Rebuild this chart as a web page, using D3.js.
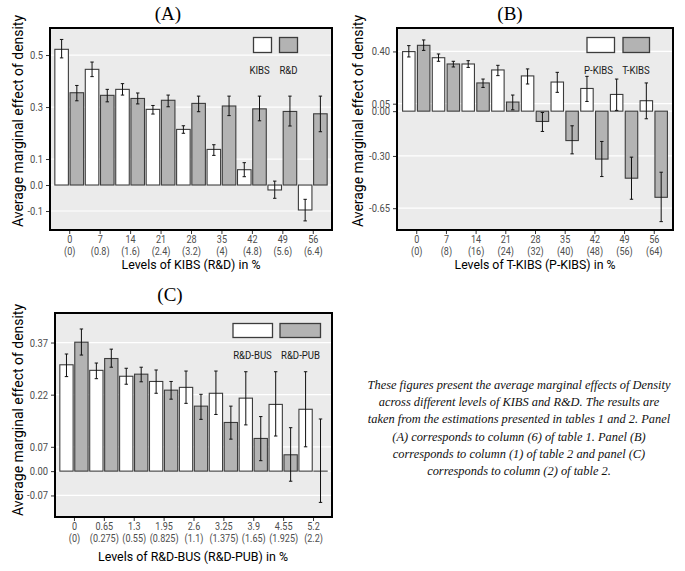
<!DOCTYPE html>
<html>
<head>
<meta charset="utf-8">
<script src="https://cdn.jsdelivr.net/npm/d3@7/dist/d3.min.js"></script>
<style>
  html, body { margin: 0; padding: 0; background: #fff; }
  svg { display: block; }
</style>
</head>
<body>
<svg id="chart" width="685" height="571"></svg>
<script>
// ---------- Panel A data ----------
const levelsA = ["0", "7", "14", "21", "28", "35", "42", "49", "56"];
const levelsA2 = ["(0)", "(0.8)", "(1.6)", "(2.4)", "(3.2)", "(4)", "(4.8)", "(5.6)", "(6.4)"];
const kibsA = [0.522, 0.445, 0.368, 0.291, 0.214, 0.137, 0.059, -0.019, -0.096];
const kibsLoA = [0.489, 0.417, 0.346, 0.273, 0.199, 0.114, 0.032, -0.051, -0.138];
const kibsHiA = [0.560, 0.473, 0.390, 0.306, 0.228, 0.155, 0.086, 0.015, -0.055];
const rdA = [0.355, 0.345, 0.333, 0.326, 0.314, 0.304, 0.293, 0.283, 0.274];
const rdLoA = [0.324, 0.320, 0.312, 0.301, 0.282, 0.267, 0.247, 0.227, 0.205];
const rdHiA = [0.383, 0.368, 0.354, 0.346, 0.342, 0.342, 0.342, 0.342, 0.342];
const ticksA = [0.5, 0.3, 0.1, 0.0, -0.1];
const seriesA = ["KIBS", "R&D"];

// ---------- Panel B data ----------
const levelsB = ["0", "7", "14", "21", "28", "35", "42", "49", "56"];
const levelsB2 = ["(0)", "(8)", "(16)", "(24)", "(32)", "(40)", "(48)", "(56)", "(64)"];
const pkibsB = [0.399, 0.358, 0.316, 0.276, 0.236, 0.195, 0.152, 0.112, 0.070];
const pkibsLoB = [0.363, 0.334, 0.293, 0.238, 0.182, 0.126, 0.065, 0.005, -0.051];
const pkibsHiB = [0.439, 0.383, 0.338, 0.307, 0.283, 0.260, 0.233, 0.215, 0.189];
const tkibsB = [0.441, 0.316, 0.189, 0.061, -0.069, -0.197, -0.321, -0.449, -0.577];
const tkibsLoB = [0.407, 0.296, 0.159, 0.009, -0.136, -0.286, -0.438, -0.590, -0.740];
const tkibsHiB = [0.477, 0.334, 0.215, 0.108, -0.009, -0.098, -0.203, -0.308, -0.409];
const ticksB = [0.40, 0.05, 0.00, -0.30, -0.65];
const seriesB = ["P-KIBS", "T-KIBS"];

// ---------- Panel C data ----------
const levelsC = ["0", "0.65", "1.3", "1.95", "2.6", "3.25", "3.9", "4.55", "5.2"];
const levelsC2 = ["(0)", "(0.275)", "(0.55)", "(0.825)", "(1.1)", "(1.375)", "(1.65)", "(1.925)", "(2.2)"];
const busC = [0.306, 0.290, 0.273, 0.258, 0.241, 0.224, 0.210, 0.192, 0.178];
const busLoC = [0.272, 0.266, 0.250, 0.224, 0.195, 0.163, 0.133, 0.101, 0.070];
const busHiC = [0.337, 0.311, 0.296, 0.291, 0.288, 0.288, 0.286, 0.286, 0.286];
const pubC = [0.371, 0.324, 0.279, 0.233, 0.187, 0.140, 0.094, 0.047, 0.000];
const pubLoC = [0.334, 0.299, 0.257, 0.207, 0.149, 0.092, 0.030, -0.029, -0.090];
const pubHiC = [0.409, 0.351, 0.299, 0.258, 0.221, 0.187, 0.157, 0.125, 0.150];
const ticksC = [0.37, 0.22, 0.07, 0.00, -0.07];
const seriesC = ["R&D-BUS", "R&D-PUB"];

const captionLines = [
  "These figures present the average marginal effects of Density",
  "across different levels of KIBS and R&D. The results are",
  "taken from the estimations presented in tables 1 and 2. Panel",
  "(A) corresponds to column (6) of table 1. Panel (B)",
  "corresponds to column (1) of table 2 and panel (C)",
  "corresponds to column (2) of table 2."
];

const svg = d3.select("#chart");
const SANS = "Roboto, 'Noto Sans', sans-serif";
const SERIF = "'Liberation Serif', 'Times New Roman', serif";
const FILLS = ["#ffffff", "#b3b3b3"];
const NARROW = "scale(0.87,1)";
const TICKFS = "10.4px";

function panel(cfg) {
  const g = svg.append("g");
  const {x0, x1, y0, y1} = cfg.rect;
  const y = d3.scaleLinear().domain(cfg.domain).range([y1, y0]);
  const xg = d3.scaleBand().domain(d3.range(cfg.levels.length))
    .range([x0 + cfg.pad, x1 - cfg.pad]).paddingInner(0).paddingOuter(0);
  const xs = d3.scaleBand().domain([0, 1]).range([0, xg.bandwidth()])
    .paddingInner(cfg.inner).paddingOuter(cfg.inner / 2);

  // background
  g.append("rect").attr("x", x0).attr("y", y0).attr("width", x1 - x0).attr("height", y1 - y0)
    .attr("fill", "#ebebeb");
  // gridlines
  g.selectAll("line.grid").data(cfg.ticks).join("line")
    .attr("x1", x0).attr("x2", x1)
    .attr("y1", d => y(d)).attr("y2", d => y(d))
    .attr("stroke", "#ffffff").attr("stroke-width", 1.2);

  // bars
  const series = [
    {v: cfg.s1, lo: cfg.s1lo, hi: cfg.s1hi},
    {v: cfg.s2, lo: cfg.s2lo, hi: cfg.s2hi}
  ];
  series.forEach((s, si) => {
    const bx = i => xg(i) + xs(si);
    g.append("g").selectAll("rect").data(s.v).join("rect")
      .attr("x", (d, i) => bx(i))
      .attr("width", xs.bandwidth())
      .attr("y", d => Math.min(y(d), y(0)))
      .attr("height", d => Math.max(Math.abs(y(d) - y(0)), 0.01))
      .attr("fill", FILLS[si])
      .attr("stroke", "#3c3c3c").attr("stroke-width", 1.1);
  });
  // error bars
  series.forEach((s, si) => {
    const cx = i => xg(i) + xs(si) + xs.bandwidth() / 2;
    const eg = g.append("g").attr("stroke", "#111").attr("stroke-width", 1);
    eg.selectAll("line.v").data(s.v).join("line")
      .attr("x1", (d, i) => cx(i)).attr("x2", (d, i) => cx(i))
      .attr("y1", (d, i) => y(s.lo[i])).attr("y2", (d, i) => y(s.hi[i]));
    eg.selectAll("line.t").data(s.v).join("line")
      .attr("x1", (d, i) => cx(i) - 1.7).attr("x2", (d, i) => cx(i) + 1.7)
      .attr("y1", (d, i) => y(s.hi[i])).attr("y2", (d, i) => y(s.hi[i]));
    eg.selectAll("line.b").data(s.v).join("line")
      .attr("x1", (d, i) => cx(i) - 1.7).attr("x2", (d, i) => cx(i) + 1.7)
      .attr("y1", (d, i) => y(s.lo[i])).attr("y2", (d, i) => y(s.lo[i]));
  });

  // border
  g.append("rect").attr("x", x0).attr("y", y0).attr("width", x1 - x0).attr("height", y1 - y0)
    .attr("fill", "none").attr("stroke", "#000").attr("stroke-width", 2);

  // y axis
  const f = d3.format(cfg.fmt);
  const yAxis = d3.axisLeft(y).tickValues(cfg.ticks)
    .tickFormat(d => f(d).replace("\u2212", "-"))
    .tickSize(3).tickPadding(3);
  const ya = g.append("g").attr("transform", `translate(${x0 - 1},0)`).call(yAxis);
  ya.select(".domain").remove();
  ya.selectAll(".tick line").attr("stroke", "#333");
  ya.selectAll(".tick text").attr("fill", "#4d4d4d").style("font-family", SANS).style("font-size", "10.8px")
    .each(function() {
      const t = d3.select(this);
      const xx = +t.attr("x");
      t.attr("x", null).attr("transform", `translate(${xx},0) ${NARROW}`);
    });

  // x axis
  const xc = d3.scalePoint().domain(d3.range(cfg.levels.length))
    .range([xg(0) + xg.bandwidth() / 2, xg(cfg.levels.length - 1) + xg.bandwidth() / 2]);
  const xAxis = d3.axisBottom(xc).tickFormat(i => cfg.levels[i]).tickSize(3).tickPadding(2);
  const xa = g.append("g").attr("transform", `translate(0,${y1 + 1})`).call(xAxis);
  xa.select(".domain").remove();
  xa.selectAll(".tick line").attr("stroke", "#333");
  xa.selectAll(".tick text").attr("fill", "#4d4d4d").style("font-family", SANS).style("font-size", TICKFS)
    .attr("transform", NARROW);
  xa.selectAll(".tick").append("text")
    .attr("y", 24).attr("fill", "#4d4d4d").attr("text-anchor", "middle")
    .attr("transform", NARROW)
    .style("font-family", SANS).style("font-size", TICKFS)
    .text(i => cfg.levels2[i]);

  // titles
  g.append("text").attr("x", cfg.titleX).attr("y", cfg.titleY).attr("text-anchor", "middle")
    .style("font-family", SERIF).style("font-size", "19px").attr("fill", "#000")
    .text(cfg.title);
  g.append("text").attr("x", cfg.xTitleX).attr("y", cfg.xTitleY).attr("text-anchor", "middle")
    .style("font-family", SANS).style("font-size", "13px").attr("fill", "#000")
    .attr("textLength", cfg.xTitleLen).attr("lengthAdjust", "spacingAndGlyphs")
    .text(cfg.xTitle);
  g.append("text")
    .attr("transform", `translate(${cfg.yTitleX},${cfg.yTitleCY}) rotate(-90)`)
    .attr("text-anchor", "middle")
    .style("font-family", SANS).style("font-size", "14px").attr("fill", "#000")
    .attr("textLength", cfg.yTitleLen).attr("lengthAdjust", "spacingAndGlyphs")
    .text("Average marginal effect of density");

  // legend
  cfg.legend.boxes.forEach((b, i) => {
    g.append("rect").attr("x", b[0]).attr("y", cfg.legend.by).attr("width", b[1] - b[0])
      .attr("height", cfg.legend.bh).attr("fill", FILLS[i])
      .attr("stroke", "#3c3c3c").attr("stroke-width", 1.3);
    g.append("text")
      .attr("transform", `translate(${cfg.legend.tx[i]},${cfg.legend.ty}) ${NARROW}`)
      .attr("text-anchor", "middle")
      .style("font-family", SANS).style("font-size", "11px").attr("fill", "#1a1a1a")
      .text(cfg.series[i]);
  });
}

panel({
  rect: {x0: 50, x1: 332, y0: 28, y1: 230}, domain: [-0.173, 0.604], pad: 4, inner: 0.11,
  levels: levelsA, levels2: levelsA2, ticks: ticksA, fmt: ".1f",
  s1: kibsA, s1lo: kibsLoA, s1hi: kibsHiA, s2: rdA, s2lo: rdLoA, s2hi: rdHiA,
  series: seriesA, title: "(A)", titleX: 168, titleY: 20,
  xTitle: "Levels of KIBS (R&D) in %", xTitleX: 191, xTitleY: 269, xTitleLen: 139,
  yTitleX: 23, yTitleCY: 121, yTitleLen: 212,
  legend: {boxes: [[253.5, 271.5], [279.5, 297.5]], by: 37.5, bh: 15, tx: [259.5, 288.5], ty: 74}
});

panel({
  rect: {x0: 397, x1: 673, y0: 28, y1: 230}, domain: [-0.796, 0.557], pad: 4.4, inner: 0.16,
  levels: levelsB, levels2: levelsB2, ticks: ticksB, fmt: ".2f",
  s1: pkibsB, s1lo: pkibsLoB, s1hi: pkibsHiB, s2: tkibsB, s2lo: tkibsLoB, s2hi: tkibsHiB,
  series: seriesB, title: "(B)", titleX: 510, titleY: 20,
  xTitle: "Levels of T-KIBS (P-KIBS) in %", xTitleX: 535, xTitleY: 269, xTitleLen: 161,
  yTitleX: 363, yTitleCY: 121, yTitleLen: 212,
  legend: {boxes: [[587, 614.5], [623, 649.5]], by: 37.5, bh: 15, tx: [598.5, 636], ty: 74}
});

panel({
  rect: {x0: 55, x1: 332, y0: 313, y1: 517}, domain: [-0.132, 0.455], pad: 4, inner: 0.11,
  levels: levelsC, levels2: levelsC2, ticks: ticksC, fmt: ".2f",
  s1: busC, s1lo: busLoC, s1hi: busHiC, s2: pubC, s2lo: pubLoC, s2hi: pubHiC,
  series: seriesC, title: "(C)", titleX: 170, titleY: 301,
  xTitle: "Levels of R&D-BUS (R&D-PUB) in %", xTitleX: 193, xTitleY: 561, xTitleLen: 190,
  yTitleX: 23, yTitleCY: 410, yTitleLen: 212,
  legend: {boxes: [[233, 272.5], [280, 320.5]], by: 323.5, bh: 14, tx: [252.5, 300.5], ty: 359}
});

// caption
svg.append("g").selectAll("text").data(captionLines).join("text")
  .attr("x", 519).attr("y", (d, i) => 389 + i * 17.2)
  .attr("text-anchor", "middle")
  .style("font-family", SERIF).style("font-style", "italic").style("font-size", "12.4px")
  .attr("fill", "#111")
  .text(d => d);
</script>
</body>
</html>
